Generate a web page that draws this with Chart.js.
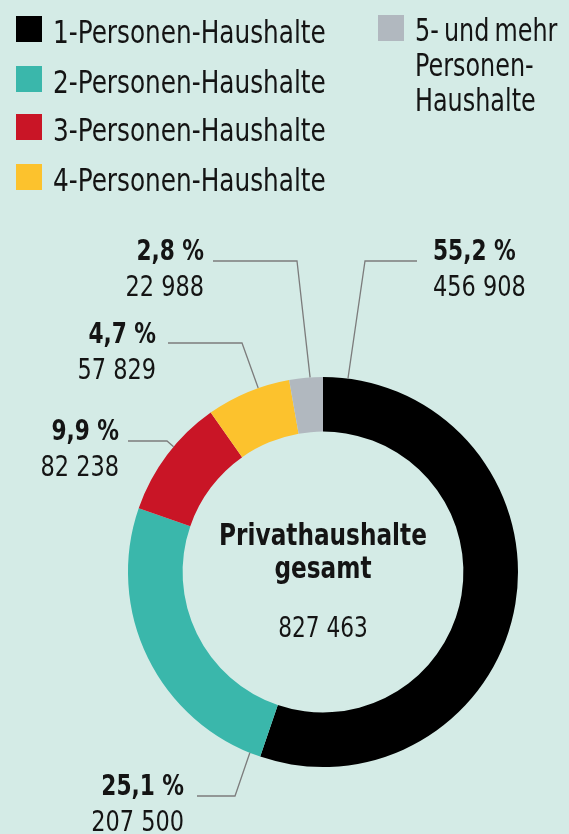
<!DOCTYPE html>
<html lang="de">
<head>
<meta charset="utf-8">
<script src="https://cdn.jsdelivr.net/npm/chart.js@4"></script>
<style>
  body { margin: 0; background: #d4ebe6; }
  #wrap { position: relative; width: 569px; height: 834px; overflow: hidden;
          font-family: 'Liberation Sans Narrow', 'DejaVu Sans Condensed', sans-serif; }
  #wrap canvas { position: absolute; left: 0; top: 0; }
  .item { position: absolute; display: flex; align-items: flex-start; font-size: 32px; line-height: 36px; color: #141414; }
  .box { width: 26px; height: 26px; margin-right: 11px; flex: none; }
  .txt { margin-top: -2px; transform: scaleX(0.86); transform-origin: left top; }
</style>
</head>
<body>
<div id="wrap">
  <canvas id="donut" width="569" height="834"></canvas>
  <div id="legend"></div>
</div>
<script>
// Haushalte nach Größe
const categories = ['1-Personen-Haushalte', '2-Personen-Haushalte', '3-Personen-Haushalte', '4-Personen-Haushalte', '5- und mehr Personen-Haushalte'];
const households = [456908, 207500, 82238, 57829, 22988];
const percentLabels = ['55,2 %', '25,1 %', '9,9 %', '4,7 %', '2,8 %'];
const colors = ['#000000', '#3ab7ab', '#c91526', '#fcc22d', '#b1b8bf'];

const FONT = "'Liberation Sans Narrow', 'DejaVu Sans Condensed', sans-serif";
const SQUEEZE = 0.86; // the original typeface is narrower

function fmt(n) {
    return String(n).replace(/\B(?=(\d{3})+(?!\d))/g, ' ');
}

// legend (HTML), placement per item
const legendPos = [[16, 16], [16, 66], [16, 114], [16, 164], [378, 15]];
const legendEl = document.getElementById('legend');
categories.forEach(function (name, i) {
    const item = document.createElement('div');
    item.className = 'item';
    item.style.left = legendPos[i][0] + 'px';
    item.style.top = legendPos[i][1] + 'px';
    item.innerHTML = '<span class="box" style="background:' + colors[i] + '"></span><span class="txt"></span>';
    const t = item.querySelector('.txt');
    t.textContent = name;
    if (i === 4) {
        t.style.width = '190px';
        t.style.lineHeight = '35px';
        t.style.wordSpacing = '-3px';
        t.style.transform = 'scaleX(0.83)';
    }
    legendEl.appendChild(item);
});

// callout layout: f = position along the slice, elbow/end of leader line, text anchor
const callouts = [
    { f: 0.037, elbow: [365, 261], end: [417, 261], x: 433, y: 260, align: 'left' },
    { f: 0.036, elbow: [235, 796], end: [197, 796], x: 184, y: 795, align: 'right' },
    { f: 0.585, elbow: [167, 441], end: [128, 441], x: 119, y: 440, align: 'right' },
    { f: 0.626, elbow: [242, 343], end: [168, 343], x: 156, y: 343, align: 'right' },
    { f: 0.62, elbow: [297, 261], end: [213, 261], x: 204, y: 260, align: 'right' }
];

function squeezedText(ctx, text, x, y, align, font) {
    ctx.save();
    ctx.translate(x, y);
    ctx.scale(SQUEEZE, 1);
    ctx.font = font;
    ctx.textAlign = align;
    ctx.textBaseline = 'alphabetic';
    ctx.fillStyle = '#141414';
    ctx.fillText(text, 0, 0);
    ctx.restore();
}

const calloutPlugin = {
    id: 'callouts',
    afterDraw(chart) {
        const ctx = chart.ctx;
        const arcs = chart.getDatasetMeta(0).data;
        const cx = arcs[0].x, cy = arcs[0].y;
        ctx.save();
        arcs.forEach(function (arc, i) {
            const c = callouts[i];
            const a = arc.startAngle + c.f * (arc.endAngle - arc.startAngle);
            const px = cx + arc.outerRadius * Math.cos(a);
            const py = cy + arc.outerRadius * Math.sin(a);
            ctx.strokeStyle = '#7c7c7c';
            ctx.lineWidth = 1.3;
            ctx.beginPath();
            ctx.moveTo(px, py);
            ctx.lineTo(c.elbow[0], c.elbow[1]);
            ctx.lineTo(c.end[0], c.end[1]);
            ctx.stroke();

            squeezedText(ctx, percentLabels[i], c.x, c.y, c.align, 'bold 28px ' + FONT);
            squeezedText(ctx, fmt(households[i]), c.x, c.y + 36, c.align, '29px ' + FONT);
        });

        // center text
        const total = households.reduce((s, v) => s + v, 0);
        squeezedText(ctx, 'Privathaushalte', cx, cy - 27, 'center', 'bold 30px ' + FONT);
        squeezedText(ctx, 'gesamt', cx, cy + 6, 'center', 'bold 30px ' + FONT);
        squeezedText(ctx, fmt(total), cx, cy + 65, 'center', '28px ' + FONT);
        ctx.restore();
    }
};

new Chart(document.getElementById('donut').getContext('2d'), {
    type: 'doughnut',
    data: {
        labels: categories,
        datasets: [{
            data: households,
            backgroundColor: colors,
            borderWidth: 0,
            hoverOffset: 0
        }]
    },
    options: {
        responsive: false,
        animation: false,
        cutout: '72%',
        layout: { padding: { left: 128, right: 51, top: 377, bottom: 67 } },
        plugins: {
            legend: { display: false },
            tooltip: { enabled: false }
        }
    },
    plugins: [calloutPlugin]
});
</script>
</body>
</html>
